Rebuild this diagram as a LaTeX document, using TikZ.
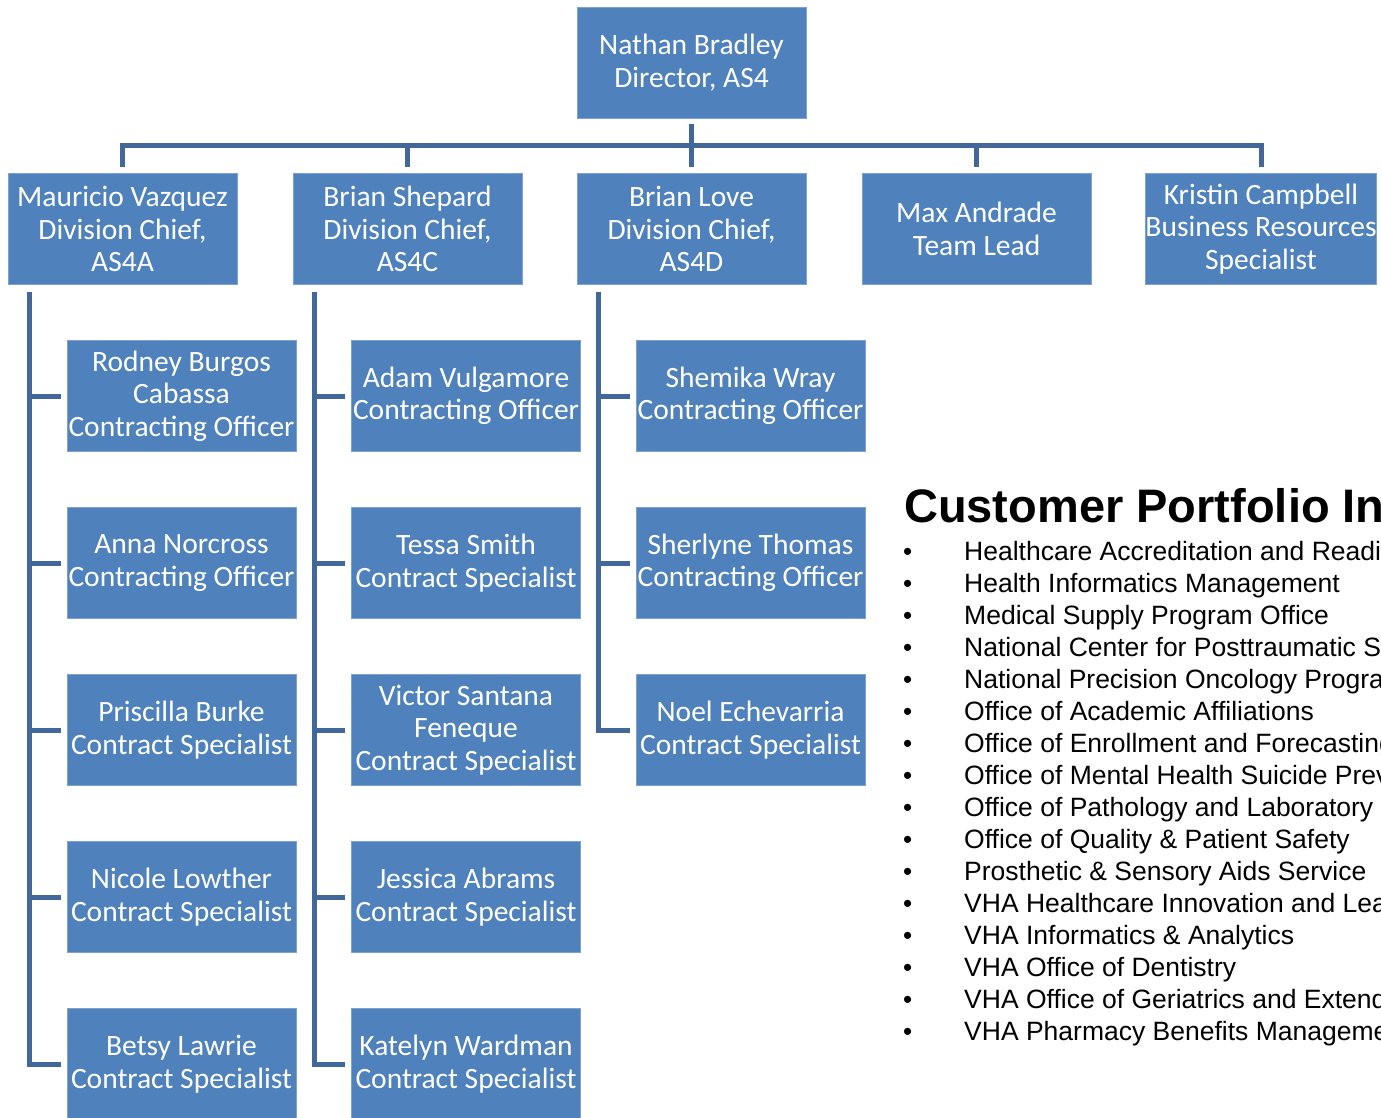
\documentclass[tikz,border=0pt]{standalone}
\usepackage{fontspec}
\newfontfamily\carlito{Carlito}
\newfontfamily\arialish{Liberation Sans}
\definecolor{boxblue}{HTML}{4F81BD}
\definecolor{boxedge}{HTML}{7EA1CF}
\definecolor{connblue}{HTML}{41679B}
\tikzset{
  orgbox/.style={rectangle, fill=boxblue, draw=boxedge, line width=0.8pt, minimum width=229pt, minimum height=111pt,
    inner sep=0pt, text=white, align=center, font=\carlito\fontsize{29.5}{32.5}\selectfont},
  conn/.style={draw=connblue, line width=5pt},
  listitem/.style={anchor=base west, inner sep=0pt, font=\arialish\fontsize{26.5}{32}\selectfont},
  bulletmark/.style={anchor=base west, inner sep=0pt, font=\arialish\fontsize{26}{32}\selectfont},
}
\begin{document}
\begin{tikzpicture}[x=1pt,y=-1pt]
\useasboundingbox (0,0) rectangle (1381,1117);
\clip (0,0) rectangle (1381,1117);
% top
\node[orgbox] (top) at (691.5,62.5) {Nathan Bradley\\Director, AS4};
% second row
\node[orgbox] (mv) at (122.5,229) {Mauricio Vazquez\\Division Chief,\\AS4A};
\node[orgbox] (bs) at (407.5,229) {Brian Shepard\\Division Chief,\\AS4C};
\node[orgbox] (bl) at (691.5,229) {Brian Love\\Division Chief,\\AS4D};
\node[orgbox] (ma) at (976.5,229) {Max Andrade\\Team Lead};
\node[orgbox] (kc) at (1261,229) {Kristin Campbell\\Business Resources\\Specialist};
% column A
\node[orgbox] (a1) at (181.5,396) {Rodney Burgos\\Cabassa\\Contracting Officer};
\node[orgbox] (a2) at (181.5,563) {Anna Norcross\\Contracting Officer};
\node[orgbox] (a3) at (181.5,730) {Priscilla Burke\\Contract Specialist};
\node[orgbox] (a4) at (181.5,897) {Nicole Lowther\\Contract Specialist};
\node[orgbox] (a5) at (181.5,1064) {Betsy Lawrie\\Contract Specialist};
% column C
\node[orgbox] (c1) at (466,396) {Adam Vulgamore\\Contracting Officer};
\node[orgbox] (c2) at (466,563) {Tessa Smith\\Contract Specialist};
\node[orgbox] (c3) at (466,730) {Victor Santana\\Feneque\\Contract Specialist};
\node[orgbox] (c4) at (466,897) {Jessica Abrams\\Contract Specialist};
\node[orgbox] (c5) at (466,1064) {Katelyn Wardman\\Contract Specialist};
% column D
\node[orgbox] (d1) at (750.5,396) {Shemika Wray\\Contracting Officer};
\node[orgbox] (d2) at (750.5,563) {Sherlyne Thomas\\Contracting Officer};
\node[orgbox] (d3) at (750.5,730) {Noel Echevarria\\Contract Specialist};
% bus
\coordinate (bus) at (0,145);
\draw[conn] ([yshift=6pt]mv.north) |- (bus -| kc.north) -- ([yshift=6pt]kc.north);
\draw[conn] ([yshift=-6pt]top.south) -- ([yshift=6pt]bl.north);
\draw[conn] (bus -| bs.north) -- ([yshift=6pt]bs.north);
\draw[conn] (bus -| ma.north) -- ([yshift=6pt]ma.north);
% column A connectors
\coordinate (ra) at (29,0);
\coordinate (mvb) at ([yshift=-7pt]mv.south);
\draw[conn] (ra |- mvb) |- ([xshift=-6pt]a5.west);
\foreach \n in {a1,a2,a3,a4}{\draw[conn] (ra |- \n.west) -- ([xshift=-6pt]\n.west);}
% column C connectors
\coordinate (rc) at (314,0);
\coordinate (bsb) at ([yshift=-7pt]bs.south);
\draw[conn] (rc |- bsb) |- ([xshift=-6pt]c5.west);
\foreach \n in {c1,c2,c3,c4}{\draw[conn] (rc |- \n.west) -- ([xshift=-6pt]\n.west);}
% column D connectors
\coordinate (rd) at (598,0);
\coordinate (blb) at ([yshift=-7pt]bl.south);
\draw[conn] (rd |- blb) |- ([xshift=-6pt]d3.west);
\foreach \n in {d1,d2}{\draw[conn] (rd |- \n.west) -- ([xshift=-6pt]\n.west);}
% portfolio list
\node[anchor=base west, inner sep=0pt, font=\arialish\bfseries\fontsize{47}{50}\selectfont] (title) at (904,522) {Customer Portfolio In};
\foreach \t [count=\i from 0] in {
 Healthcare Accreditation and Readin,
 Health Informatics Management,
 Medical Supply Program Office,
 National Center for Posttraumatic St,
 National Precision Oncology Program,
 Office of Academic Affiliations,
 Office of Enrollment and Forecasting,
 Office of Mental Health Suicide Prev,
 Office of Pathology and Laboratory M,
 Office of Quality \& Patient Safety,
 Prosthetic \& Sensory Aids Service,
 VHA Healthcare Innovation and Lea,
 VHA Informatics \& Analytics,
 VHA Office of Dentistry,
 VHA Office of Geriatrics and Extend,
 VHA Pharmacy Benefits Manageme}{
  \node[bulletmark] (b\i) at (903,560+32*\i) {•};
  \node[listitem] (l\i) at (964,560+32*\i) {\t};
}
\end{tikzpicture}
\end{document}
